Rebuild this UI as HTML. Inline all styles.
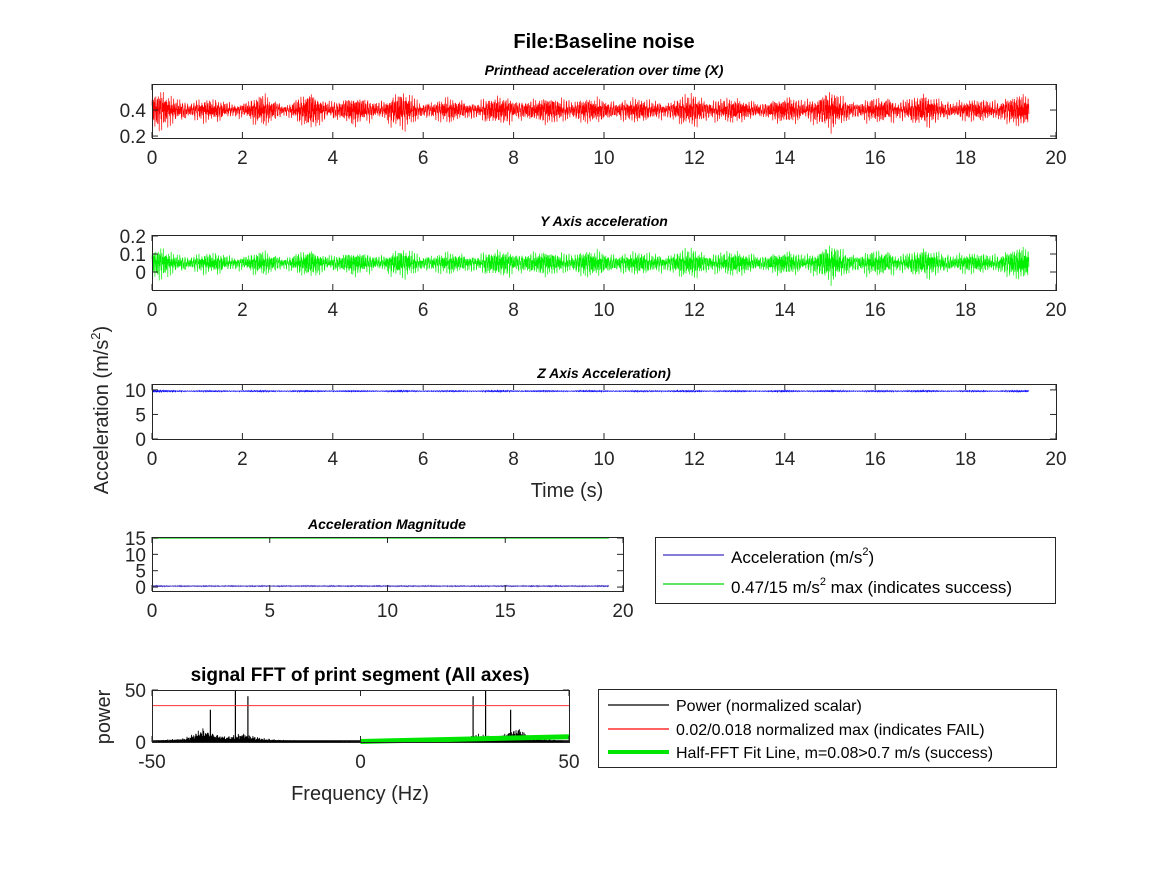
<!DOCTYPE html>
<html><head><meta charset="utf-8"><style>
html,body{margin:0;padding:0;background:#fff;}
svg{display:block;font-family:"Liberation Sans",Arial,sans-serif;}
</style></head><body>
<svg id="fig" width="1167" height="875" viewBox="0 0 1167 875">
<rect width="1167" height="875" fill="#fff"/>
<text x="604" y="48" font-size="20" font-weight="bold" text-anchor="middle" fill="#000">File:Baseline noise</text>
<text x="604" y="75" font-size="14" font-weight="bold" font-style="italic" text-anchor="middle">Printhead acceleration over time (X)</text>
<text x="604" y="226" font-size="14" font-weight="bold" font-style="italic" text-anchor="middle">Y Axis acceleration</text>
<text x="604" y="378" font-size="14" font-weight="bold" font-style="italic" text-anchor="middle">Z Axis Acceleration)</text>
<text x="387" y="529" font-size="14" font-weight="bold" font-style="italic" text-anchor="middle">Acceleration Magnitude</text>
<text x="360" y="681" font-size="19" font-weight="bold" text-anchor="middle">signal FFT of print segment (All axes)</text>
<text transform="translate(108,410) rotate(-90)" font-size="20" fill="#262626" text-anchor="middle">Acceleration (m/s<tspan font-size="13" dy="-8">2</tspan><tspan dy="8">)</tspan></text>
<text x="567" y="497" font-size="20" fill="#262626" text-anchor="middle">Time (s)</text>
<text transform="translate(110,717) rotate(-90)" font-size="20" fill="#262626" text-anchor="middle">power</text>
<text x="360" y="800" font-size="20" fill="#262626" text-anchor="middle">Frequency (Hz)</text>
<g id="plots"></g>
<g>
<rect x="655.5" y="537.5" width="400" height="66" fill="#fff" stroke="#262626" stroke-width="1"/>
<line x1="663" y1="555" x2="724" y2="555" stroke="#3a2fc0" stroke-width="1.2"/>
<text x="731" y="563" font-size="17" fill="#000">Acceleration (m/s<tspan font-size="11" dy="-8">2</tspan><tspan dy="8">)</tspan></text>
<line x1="663" y1="584" x2="724" y2="584" stroke="#00d800" stroke-width="1.2"/>
<text x="731" y="593" font-size="17" fill="#000">0.47/15 m/s<tspan font-size="11" dy="-8">2</tspan><tspan dy="8"> max (indicates success)</tspan></text>
</g>
<g>
<rect x="598.5" y="689.5" width="458" height="78" fill="#fff" stroke="#262626" stroke-width="1"/>
<line x1="608" y1="705" x2="669" y2="705" stroke="#000" stroke-width="1.2"/>
<text x="676" y="711" font-size="16">Power (normalized scalar)</text>
<line x1="608" y1="729" x2="669" y2="729" stroke="#f00" stroke-width="1.2"/>
<text x="676" y="735" font-size="16">0.02/0.018 normalized max (indicates FAIL)</text>
<line x1="608" y1="752" x2="669" y2="752" stroke="#00e600" stroke-width="4"/>
<text x="676" y="758" font-size="16">Half-FFT Fit Line, m=0.08&gt;0.7 m/s (success)</text>
</g>
</svg>
<script>
// envelope data per 0.5 s (0..19 s)
const xEnv=[0.15,0.09,0.08,0.07,0.06,0.11,0.05,0.13,0.08,0.1,0.08,0.13,0.07,0.08,0.07,0.09,0.1,0.08,0.1,0.09,0.08,0.09,0.07,0.08,0.11,0.09,0.08,0.07,0.09,0.1,0.13,0.08,0.08,0.09,0.11,0.08,0.07,0.08,0.11];
const yEnv=[0.09,0.05,0.05,0.05,0.04,0.06,0.04,0.07,0.05,0.06,0.05,0.07,0.05,0.05,0.05,0.06,0.07,0.06,0.06,0.07,0.06,0.06,0.05,0.06,0.07,0.06,0.06,0.05,0.06,0.06,0.09,0.06,0.06,0.06,0.07,0.06,0.05,0.05,0.08];
const zEnv=[0.3,0.15,0.12,0.12,0.12,0.15,0.12,0.15,0.12,0.12,0.12,0.15,0.12,0.12,0.12,0.15,0.15,0.12,0.12,0.15,0.12,0.12,0.12,0.15,0.15,0.12,0.12,0.12,0.15,0.12,0.15,0.12,0.12,0.15,0.15,0.12,0.12,0.12,0.15];
const xCenter=0.4, yCenter=0.05, zCenter=9.75, magCenter=0.3, magMax=15;
const tEnd=19.4;
// FFT baseline every 2 Hz from -50 to 50
const fftFreqs=[-50,-48,-46,-44,-42,-40,-38,-36,-34,-32,-30,-28,-26,-24,-22,-20,-18,-16,-14,-12,-10,-8,-6,-4,-2,0,2,4,6,8,10,12,14,16,18,20,22,24,26,28,30,32,34,36,38,40,42,44,46,48,50];
const fftBase=[1.5,2,2.5,3,4,8,14,10,8,6,7,9,6,4,3,2.5,2,1.8,1.5,1.2,1.4,1,0.8,0.5,0.4,0.3,0.5,0.8,1,1.2,1.4,1.5,1.8,2,2.2,2.5,3,4,6,9,7,6,8,10,14,8,4,3,2.5,2,1.5];
const peakFreqs=[-36,-30,-27,27,30,36];
const peakVals=[31,50,44,44,50,31];
const failLevel=35;
const fitStart=0.5, fitEnd=5;

const NS="http://www.w3.org/2000/svg";
const root=document.getElementById('plots');
function mk(tag,attrs,parent){const e=document.createElementNS(NS,tag);for(const k in attrs)e.setAttribute(k,attrs[k]);(parent||root).appendChild(e);return e;}
function scale(d0,d1,r0,r1){return v=>r0+(v-d0)/(d1-d0)*(r1-r0);}
function noise(i){return Math.sin(i*2.31)*0.45+Math.sin(i*5.17+1)*0.3+Math.sin(i*11.93)*0.2+Math.sin(i*0.913)*Math.sin(i*7.71)*0.45+Math.sin(i*0.0371)*Math.sin(i*3.3)*0.3;}
function envAt(env,t){const k=t/0.5;const i=Math.min(env.length-1,Math.floor(k));const j=Math.min(env.length-1,i+1);const f=k-i;return env[i]*(1-f)+env[j]*f;}

function axes(name,x0,x1,y0,y1,xd,yd,xticks,yticks,xlabels,ylabels){
  const g=mk('g',{});
  
  
  const sx=scale(xd[0],xd[1],x0,x1), sy=scale(yd[0],yd[1],y1,y0);
  const data=mk('g',{},g);
  const fr=mk('rect',{x:x0+0.5,y:y0+0.5,width:x1-x0,height:y1-y0,fill:'none',stroke:'#262626','stroke-width':1},g);
  
  
  xticks.forEach((v,i)=>{const x=sx(v);
    mk('line',{x1:x,x2:x,y1:y1,y2:y1-6,stroke:'#262626'},g);
    mk('line',{x1:x,x2:x,y1:y0,y2:y0+6,stroke:'#262626'},g);
    const t=mk('text',{x:x,y:y1+26,'font-size':19,fill:'#262626','text-anchor':'middle'},g);t.textContent=xlabels[i];
    
    });
  yticks.forEach((v,i)=>{const y=sy(v);
    mk('line',{x1:x0,x2:x0+6,y1:y,y2:y,stroke:'#262626'},g);
    mk('line',{x1:x1,x2:x1-6,y1:y,y2:y,stroke:'#262626'},g);
    const t=mk('text',{x:x0-6,y:y+7,'font-size':19,fill:'#262626','text-anchor':'end'},g);t.textContent=ylabels[i];
    
    });
  g.insertBefore(data,fr);
  return {sx,sy,data};
}
function noiseLine(ax,env,center,color,name,w){
  let d='';const n=Math.round(tEnd/0.005);
  for(let i=0;i<=n;i++){const t=i*0.005;const v=center+envAt(env,t)*noise(i);d+=(i?'L':'M')+ax.sx(t).toFixed(1)+','+ax.sy(v).toFixed(1);}
  const p=mk('path',{d:d,fill:'none',stroke:color,'stroke-width':w||0.7},ax.data);
  
  
}
const tx=[0,2,4,6,8,10,12,14,16,18,20];
const a1=axes('x-accel-plot',152,1056,84,138,[0,20],[0.185,0.6],tx,[0.2,0.4],tx.map(String),['0.2','0.4']);
noiseLine(a1,xEnv,xCenter,'#ff0000','x-accel-line');
const a2=axes('y-accel-plot',152,1056,235,290,[0,20],[-0.1,0.2056],tx,[0,0.1,0.2],tx.map(String),['0','0.1','0.2']);
noiseLine(a2,yEnv,yCenter,'#00ee00','y-accel-line');
const a3=axes('z-accel-plot',152,1056,384,439,[0,20],[0,11.2],tx,[0,5,10],tx.map(String),['0','5','10']);
noiseLine(a3,zEnv,zCenter,'#0000ff','z-accel-line',0.6);
const t4=[0,5,10,15,20];
const a4=axes('magnitude-plot',152,623,537,591,[0,20],[-1.2,15.3],t4,[0,5,10,15],t4.map(String),['0','5','10','15']);
noiseLine(a4,zEnv,magCenter,'#3a2fc0','magnitude-line',0.6);
const ml=mk('line',{x1:a4.sx(0),x2:a4.sx(tEnd),y1:a4.sy(magMax),y2:a4.sy(magMax),stroke:'#33dd33','stroke-width':1.5},a4.data);


const f5=[-50,0,50];
const a5=axes('fft-plot',152,569,690,742,[-50,50],[0,50],f5,[0,50],f5.map(String),['0','50']);
(function(){
  let d='';let k=0;
  for(let f=-50;f<=50.001;f+=0.1){k++;
    const idx=Math.min(fftBase.length-2,Math.floor((f+50)/2));const fr=(f+50)/2-idx;
    let b=fftBase[idx]*(1-fr)+fftBase[idx+1]*fr;
    let v=b*(0.55+0.45*noise(k));
    d+='M'+a5.sx(f).toFixed(1)+','+a5.sy(0).toFixed(1)+'L'+a5.sx(f).toFixed(1)+','+a5.sy(Math.max(0.4,v)).toFixed(1);
  }
  const p=mk('path',{d:d,stroke:'#000','stroke-width':0.9,fill:'none'},a5.data);
  
  
  const bl=mk('line',{x1:a5.sx(-50),x2:a5.sx(50),y1:a5.sy(0)-1,y2:a5.sy(0)-1,stroke:'#000','stroke-width':1.5},a5.data);
  
  
  peakFreqs.forEach((f,i)=>{
    const l=mk('line',{x1:a5.sx(f),x2:a5.sx(f),y1:a5.sy(0),y2:a5.sy(peakVals[i]),stroke:'#000','stroke-width':1.2},a5.data);
    
    
  });
  const r=mk('line',{x1:a5.sx(-50),x2:a5.sx(50),y1:a5.sy(failLevel),y2:a5.sy(failLevel),stroke:'#ff3333','stroke-width':1},a5.data);
  
  
  const g=mk('line',{x1:a5.sx(0),x2:a5.sx(50),y1:a5.sy(fitStart),y2:a5.sy(fitEnd),stroke:'#00e600','stroke-width':5},a5.data);
  
  
})();
</script>
</body></html>
